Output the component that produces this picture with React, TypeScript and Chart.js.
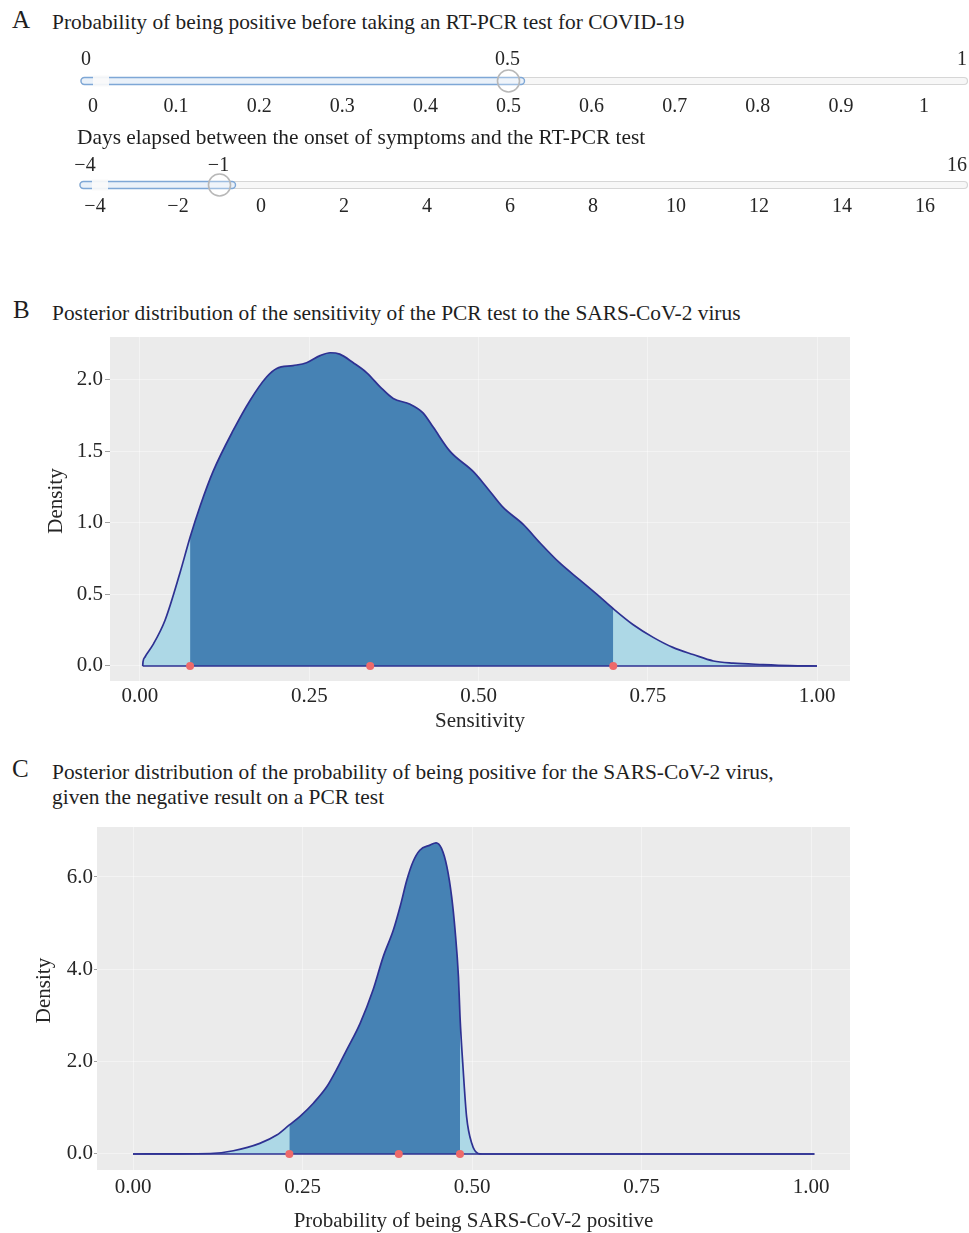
import React, { useEffect, useRef } from 'react';
import { Chart, registerables } from 'chart.js';

Chart.register(...registerables);

const SERIF = "'Liberation Serif', 'Times New Roman', Times, serif";
const INK = '#262626';
const STEEL = '#4682B4';
const LIGHT = '#ADD8E6';
const NAVY = '#2E3192';
const RED = '#EE6A6A';
const PANEL_BG = '#EBEBEB';
const GRID = 'rgba(255,255,255,0.4)';

// ---------- Panel A: slider settings ----------
const priorTickValues = [0, 0.1, 0.2, 0.3, 0.4, 0.5, 0.6, 0.7, 0.8, 0.9, 1];
const priorRange = [0, 1];
const priorSelected = 0.5;

const daysTickValues = [-4, -2, 0, 2, 4, 6, 8, 10, 12, 14, 16];
const daysRange = [-4, 16];
const daysSelected = -1;

// ---------- Panel B: posterior of sensitivity ----------
const sensitivityGrid = [
  0.004, 0.0045, 0.0074, 0.019, 0.037, 0.059, 0.074, 0.089, 0.108, 0.138, 0.163, 0.187,
  0.202, 0.226, 0.246, 0.266, 0.281, 0.295, 0.315, 0.335, 0.355, 0.374, 0.399, 0.418,
  0.433, 0.458, 0.492, 0.512, 0.536, 0.566, 0.591, 0.62, 0.65, 0.675, 0.699, 0.728,
  0.758, 0.787, 0.817, 0.847, 0.876, 0.92, 0.96, 1.0,
];
const sensitivityDensity = [
  0, 0.03, 0.063, 0.147, 0.32, 0.65, 0.9, 1.12, 1.36, 1.65, 1.86, 2.02,
  2.08, 2.1, 2.12, 2.17, 2.19, 2.18, 2.12, 2.05, 1.95, 1.87, 1.83, 1.77,
  1.67, 1.5, 1.36, 1.25, 1.11, 0.99, 0.86, 0.72, 0.6, 0.5, 0.4, 0.29,
  0.2, 0.13, 0.08, 0.035, 0.02, 0.01, 0.003, 0,
];
const sensitivityInterval = [0.074, 0.699];
const sensitivityMedian = 0.34;
const sensitivityXTicks = [0, 0.25, 0.5, 0.75, 1];
const sensitivityYTicks = [0, 0.5, 1, 1.5, 2];

// ---------- Panel C: posterior of probability of being positive ----------
const positiveGrid = [
  0, 0.06, 0.114, 0.148, 0.187, 0.212, 0.2306, 0.246, 0.266, 0.286, 0.3, 0.315,
  0.335, 0.354, 0.369, 0.384, 0.394, 0.404, 0.413, 0.423, 0.438, 0.447, 0.455, 0.463,
  0.47, 0.475, 0.48, 0.4823, 0.487, 0.492, 0.4996, 0.509, 0.515, 0.6, 0.8, 1.005,
];
const positiveDensity = [
  0, 0.003, 0.01, 0.07, 0.23, 0.41, 0.63, 0.81, 1.1, 1.46, 1.82, 2.25,
  2.83, 3.55, 4.27, 4.85, 5.36, 5.94, 6.33, 6.58, 6.69, 6.74, 6.62, 6.22,
  5.57, 4.85, 3.84, 2.98, 1.82, 0.81, 0.23, 0.01, 0, 0, 0, 0,
];
const positiveInterval = [0.2306, 0.4823];
const positiveMedian = 0.392;
const positiveXTicks = [0, 0.25, 0.5, 0.75, 1];
const positiveYTicks = [0, 2, 4, 6];

const fmt = (v: number) => String(v).replace('-', '\u2212');

type SliderProps = {
  left: number; top: number; width: number; height: number;
  min: number; max: number; value: number; ticks: number[];
  padLeft: number; padRight: number; padTop: number;
  axisHeight: number; tickPad: number; topLabelY: number; trackStart: number;
};

function Slider(p: SliderProps) {
  const ref = useRef<HTMLCanvasElement>(null);
  useEffect(() => {
    const trackPlugin = {
      id: 'sliderTrack',
      beforeDatasetsDraw(chart: any) {
        const { ctx, chartArea } = chart;
        const xs = chart.scales.x;
        const cy = (chartArea.top + chartArea.bottom) / 2;
        const x0 = p.trackStart;
        const x1 = chart.width - 1.5;
        const h = 7;
        const hx = xs.getPixelForValue(p.value);
        ctx.save();
        ctx.beginPath();
        ctx.roundRect(x0, cy - h / 2, x1 - x0, h, h / 2);
        ctx.fillStyle = '#f7f7f7';
        ctx.fill();
        ctx.strokeStyle = '#d6d6d6';
        ctx.lineWidth = 1.2;
        ctx.stroke();
        ctx.beginPath();
        ctx.roundRect(x0, cy - h / 2, hx + 16 - x0, h, h / 2);
        ctx.fillStyle = '#eaf1f9';
        ctx.fill();
        ctx.strokeStyle = '#7ea7d6';
        ctx.lineWidth = 1.4;
        ctx.stroke();
        ctx.fillStyle = 'rgba(250,250,250,0.92)';
        ctx.fillRect(x0 + 12, cy - h / 2 - 2, 16, h + 4);
        ctx.font = `20px ${SERIF}`;
        ctx.fillStyle = INK;
        ctx.textBaseline = 'middle';
        ctx.textAlign = 'center';
        ctx.fillText(fmt(p.min), x0 + 5, p.topLabelY);
        ctx.fillText(fmt(p.value), hx - 1, p.topLabelY);
        ctx.textAlign = 'right';
        ctx.fillText(fmt(p.max), x1 - 0.5, p.topLabelY);
        ctx.restore();
      },
    };
    const chart = new Chart(ref.current as HTMLCanvasElement, {
      type: 'scatter',
      data: {
        datasets: [
          {
            data: [{ x: p.value, y: 0.5 }],
            pointRadius: 11,
            pointBackgroundColor: 'rgba(255,255,255,0.25)',
            pointBorderColor: '#b8b8b8',
            pointBorderWidth: 1.6,
            clip: false,
          } as any,
        ],
      },
      options: {
        animation: false,
        responsive: false,
        events: [],
        layout: { padding: { left: p.padLeft, right: p.padRight, top: p.padTop, bottom: 0 } },
        plugins: { legend: { display: false }, tooltip: { enabled: false } },
        scales: {
          x: {
            type: 'linear',
            min: p.min,
            max: p.max,
            afterBuildTicks: (s: any) => { s.ticks = p.ticks.map((v) => ({ value: v })); },
            afterFit: (s: any) => { s.height = p.axisHeight; },
            grid: { display: false, drawTicks: false },
            border: { display: false },
            ticks: {
              padding: p.tickPad,
              color: INK,
              maxRotation: 0,
              autoSkip: false,
              font: { family: SERIF, size: 20, lineHeight: 1.2 },
              callback: (v: any) => fmt(Number(v)),
            },
          },
          y: { display: false, min: 0, max: 1 },
        },
      } as any,
      plugins: [trackPlugin],
    });
    return () => chart.destroy();
  }, []);
  return (
    <canvas
      ref={ref}
      width={p.width}
      height={p.height}
      style={{ position: 'absolute', left: p.left, top: p.top, width: p.width, height: p.height }}
    />
  );
}

type DensityProps = {
  left: number; top: number; width: number; height: number;
  xs: number[]; ds: number[]; interval: number[]; median: number;
  xMin: number; xMax: number; yMin: number; yMax: number;
  xTicks: number[]; yTicks: number[]; xDigits: number; yDigits: number;
  xTitle: string;
  padTop: number; padRight: number; yAxisWidth: number; xAxisHeight: number;
  xTickPad: number; yTickLen: number; yTickPad: number; yTitleX: number; xTitlePad: number;
};

function DensityPanel(p: DensityProps) {
  const ref = useRef<HTMLCanvasElement>(null);
  useEffect(() => {
    const pts = p.xs.map((x, i) => ({ x, y: p.ds[i] }));
    const [lo, hi] = p.interval;
    const mid = pts.filter((pt) => pt.x >= lo - 1e-9 && pt.x <= hi + 1e-9);
    const base = [{ x: pts[0].x, y: 0 }, { x: pts[pts.length - 1].x, y: 0 }];
    const marks = [lo, p.median, hi].map((x) => ({ x, y: 0 }));
    const font = { family: SERIF, size: 21, lineHeight: 1.2 };
    const bgPlugin = {
      id: 'panelBg',
      beforeDraw(chart: any) {
        const { ctx, chartArea: a } = chart;
        ctx.save();
        ctx.fillStyle = PANEL_BG;
        ctx.fillRect(a.left, a.top, a.right - a.left, a.bottom - a.top);
        ctx.restore();
      },
      afterDraw(chart: any) {
        const { ctx, chartArea: a } = chart;
        ctx.save();
        ctx.translate(p.yTitleX, (a.top + a.bottom) / 2 - 8);
        ctx.rotate(-Math.PI / 2);
        ctx.font = `21px ${SERIF}`;
        ctx.fillStyle = INK;
        ctx.textAlign = 'center';
        ctx.textBaseline = 'middle';
        ctx.fillText('Density', 0, 0);
        ctx.restore();
      },
    };
    const chart = new Chart(ref.current as HTMLCanvasElement, {
      type: 'line',
      data: {
        datasets: [
          {
            data: marks, showLine: false, pointRadius: 4, pointBackgroundColor: RED,
            pointBorderWidth: 0, borderColor: RED,
          },
          {
            data: pts, borderColor: NAVY, borderWidth: 1.7, fill: false, pointRadius: 0,
            cubicInterpolationMode: 'monotone',
          },
          {
            data: base, borderColor: NAVY, borderWidth: 1.7, fill: false, pointRadius: 0,
          },
          {
            data: mid, borderWidth: 0, borderColor: 'transparent', backgroundColor: STEEL,
            fill: 'origin', pointRadius: 0, cubicInterpolationMode: 'monotone',
          },
          {
            data: pts, borderWidth: 0, borderColor: 'transparent', backgroundColor: LIGHT,
            fill: 'origin', pointRadius: 0, cubicInterpolationMode: 'monotone',
          },
        ] as any,
      },
      options: {
        animation: false,
        responsive: false,
        events: [],
        layout: { padding: { left: 0, top: p.padTop, right: p.padRight, bottom: 0 } },
        plugins: { legend: { display: false }, tooltip: { enabled: false } },
        scales: {
          x: {
            type: 'linear',
            min: p.xMin,
            max: p.xMax,
            afterBuildTicks: (s: any) => { s.ticks = p.xTicks.map((v) => ({ value: v })); },
            afterFit: (s: any) => { s.height = p.xAxisHeight; },
            grid: { color: GRID, lineWidth: 1, drawTicks: false },
            border: { display: false },
            ticks: {
              padding: p.xTickPad, color: INK, font, maxRotation: 0, autoSkip: false,
              callback: (v: any) => Number(v).toFixed(p.xDigits),
            },
            title: {
              display: true, text: p.xTitle, color: INK, font,
              padding: { top: 0, bottom: p.xTitlePad },
            },
          },
          y: {
            type: 'linear',
            min: p.yMin,
            max: p.yMax,
            afterBuildTicks: (s: any) => { s.ticks = p.yTicks.map((v) => ({ value: v })); },
            afterFit: (s: any) => {
              s.width = p.yAxisWidth;
              s.paddingTop = 0;
              s.paddingBottom = 0;
            },
            grid: { color: GRID, lineWidth: 1, drawTicks: true, tickLength: p.yTickLen, tickColor: '#a0a0a0', tickWidth: 1 },
            border: { display: false },
            ticks: {
              padding: p.yTickPad, color: INK, font, autoSkip: false,
              callback: (v: any) => Number(v).toFixed(p.yDigits),
            },
          },
        },
      } as any,
      plugins: [bgPlugin],
    });
    return () => chart.destroy();
  }, []);
  return (
    <canvas
      ref={ref}
      width={p.width}
      height={p.height}
      style={{ position: 'absolute', left: p.left, top: p.top, width: p.width, height: p.height }}
    />
  );
}

function Label(props: { left: number; top: number; size: number; text: string }) {
  return (
    <div
      style={{
        position: 'absolute', left: props.left, top: props.top, fontSize: props.size,
        lineHeight: '24px', whiteSpace: 'nowrap', fontFamily: SERIF, color: '#1e1e1e',
      }}
    >
      {props.text}
    </div>
  );
}

export default function App() {
  useEffect(() => {
    document.body.style.overflow = 'hidden';
    document.documentElement.style.overflow = 'hidden';
  }, []);
  return (
    <div style={{ position: 'absolute', left: 0, top: 0, width: 969, height: 1233, overflow: 'hidden', background: '#fff' }}>
      <Slider
        left={60} top={40} width={909} height={85}
        min={priorRange[0]} max={priorRange[1]} value={priorSelected} ticks={priorTickValues}
        padLeft={33} padRight={45} padTop={36} axisHeight={39} tickPad={9} topLabelY={19.5} trackStart={21}
      />
      <Slider
        left={60} top={145} width={909} height={85}
        min={daysRange[0]} max={daysRange[1]} value={daysSelected} ticks={daysTickValues}
        padLeft={35} padRight={44} padTop={35} axisHeight={40} tickPad={5} topLabelY={20.5} trackStart={20}
      />
      <DensityPanel
        left={0} top={330} width={870} height={410}
        xs={sensitivityGrid} ds={sensitivityDensity} interval={sensitivityInterval} median={sensitivityMedian}
        xMin={-0.0443} xMax={1.0487} yMin={-0.105} yMax={2.3}
        xTicks={sensitivityXTicks} yTicks={sensitivityYTicks} xDigits={2} yDigits={1}
        xTitle="Sensitivity"
        padTop={7} padRight={20} yAxisWidth={110} xAxisHeight={59}
        xTickPad={3} yTickLen={5} yTickPad={2} yTitleX={56} xTitlePad={6}
      />
      <DensityPanel
        left={0} top={820} width={870} height={413}
        xs={positiveGrid} ds={positiveDensity} interval={positiveInterval} median={positiveMedian}
        xMin={-0.0531} xMax={1.0575} yMin={-0.347} yMax={7.083}
        xTicks={positiveXTicks} yTicks={positiveYTicks} xDigits={2} yDigits={1}
        xTitle="Probability of being SARS-CoV-2 positive"
        padTop={7} padRight={20} yAxisWidth={97} xAxisHeight={63}
        xTickPad={5} yTickLen={3} yTickPad={1} yTitleX={44} xTitlePad={-1}
      />
      <Label left={12} top={8} size={25} text="A" />
      <Label left={52} top={9.5} size={21.4} text="Probability of being positive before taking an RT-PCR test for COVID-19" />
      <Label left={77} top={124.5} size={21.4} text="Days elapsed between the onset of symptoms and the RT-PCR test" />
      <Label left={13} top={298} size={25} text="B" />
      <Label left={52} top={300.5} size={21.4} text="Posterior distribution of the sensitivity of the PCR test to the SARS-CoV-2 virus" />
      <Label left={12} top={757} size={25} text="C" />
      <Label left={52} top={759.5} size={21.4} text="Posterior distribution of the probability of being positive for the SARS-CoV-2 virus," />
      <Label left={52} top={784.5} size={21.4} text="given the negative result on a PCR test" />
    </div>
  );
}
